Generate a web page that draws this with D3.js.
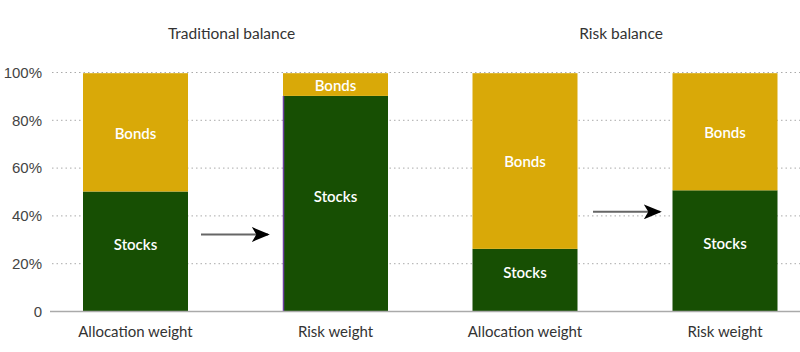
<!DOCTYPE html>
<meta charset="utf-8">
<script src="https://d3js.org/d3.v7.min.js"></script>
<style>
  body { margin: 0; font-family: "Source Sans Pro", Lato, "Noto Sans", sans-serif; background: #fff; }
  .tick text { fill: #444; font-size: 15px; }
</style>
<body>
<div id="viz"></div>
<script>
// data
const groups = ["Traditional balance", "Risk balance"];
const barKinds = ["Allocation weight", "Risk weight"];
const stocks = [[0.5, 0.9], [0.26, 0.505]];
const bonds = [[0.495, 0.095], [0.735, 0.49]];
const yTicks = [0, 0.2, 0.4, 0.6, 0.8, 1.0];

const W = 800, H = 352;
const svg = d3.select("#viz").append("svg").attr("width", W).attr("height", H);

const y = d3.scaleLinear().domain([0, 1]).range([311, 72]);
const gx = d3.scalePoint().domain(groups).range([135.5, 525]);
const ix = d3.scalePoint().domain(barKinds).range([0, 200]);
const bw = 105;

// gridlines
svg.append("g").selectAll("line").data(yTicks.filter(d => d > 0)).join("line")
  .attr("x1", 52).attr("x2", 800)
  .attr("y1", d => y(d) + 0.5).attr("y2", d => y(d) + 0.5)
  .attr("stroke", "#aaa").attr("stroke-dasharray", "1.5,3");

// y axis labels
const yAxis = svg.append("g").attr("transform", "translate(42,0)")
  .call(d3.axisLeft(y).tickValues(yTicks).tickSize(0)
    .tickFormat(d => d === 0 ? "0" : d3.format(".0%")(d)));
yAxis.select(".domain").remove();
yAxis.selectAll("text").attr("dy", "0.35em").attr("x", 0);

// bars
const stack = [];
groups.forEach((g, gi) => barKinds.forEach((k, ki) =>
  stack.push({ g, k, cx: gx(g) + ix(k), s: stocks[gi][ki], o: bonds[gi][ki] })));

const g = svg.append("g");
g.selectAll(".stk").data(stack).join("rect")
  .attr("x", d => d.cx - bw / 2).attr("width", bw)
  .attr("y", d => y(d.s)).attr("height", d => y(0) - y(d.s))
  .attr("fill", "#174f03");
g.selectAll(".bnd").data(stack).join("rect")
  .attr("x", d => d.cx - bw / 2).attr("width", bw)
  .attr("y", d => y(d.s + d.o)).attr("height", d => y(d.s) - y(d.s + d.o))
  .attr("fill", "#d9a908");

// thin purple edge on traditional risk-weight bar
const edge = stack[1];
svg.append("line")
  .attr("x1", edge.cx - bw / 2 + 0.5).attr("x2", edge.cx - bw / 2 + 0.5)
  .attr("y1", y(edge.s)).attr("y2", y(0))
  .attr("stroke", "#6b3fa0").attr("stroke-width", 1.5);

// bar labels
g.selectAll(".ls").data(stack).join("text")
  .attr("x", d => d.cx).attr("y", d => y(d.s / 2) - 7).attr("dy", "0.35em")
  .attr("text-anchor", "middle").attr("fill", "#fff")
  .attr("font-size", 15).attr("font-weight", 600).text("Stocks");
g.selectAll(".lb").data(stack).join("text")
  .attr("x", d => d.cx).attr("y", d => y(d.s + d.o / 2) + 1).attr("dy", "0.35em")
  .attr("text-anchor", "middle").attr("fill", "#fff")
  .attr("font-size", 15).attr("font-weight", 600).text("Bonds");

// baseline
svg.append("line").attr("x1", 50).attr("x2", 800).attr("y1", 311.5).attr("y2", 311.5)
  .attr("stroke", "#aaa").attr("stroke-width", 1.5);

// category labels
svg.append("g").selectAll("text").data(stack).join("text")
  .attr("x", d => d.cx).attr("y", 337).attr("text-anchor", "middle")
  .attr("fill", "#333").attr("font-size", 15)
  .text(d => d.k);

// group titles
svg.append("g").selectAll("text").data(groups).join("text")
  .attr("x", d => gx(d) + 96).attr("y", 39).attr("text-anchor", "middle")
  .attr("fill", "#333").attr("font-size", 15.5).text(d => d);

// arrows
svg.append("defs").append("marker").attr("id", "ah").attr("viewBox", "0 0 10 10")
  .attr("preserveAspectRatio", "none")
  .attr("refX", 9).attr("refY", 5).attr("markerWidth", 18).attr("markerHeight", 15)
  .attr("markerUnits", "userSpaceOnUse").attr("orient", "auto")
  .append("path").attr("d", "M0,0 L10,5 L0,10 L2.5,5 Z").attr("fill", "#000");
const arrows = [
  { x1: 201, x2: 268, v: 0.32 },
  { x1: 593, x2: 660, v: 0.415 }
];
svg.append("g").selectAll("line").data(arrows).join("line")
  .attr("x1", d => d.x1).attr("x2", d => d.x2)
  .attr("y1", d => y(d.v)).attr("y2", d => y(d.v))
  .attr("stroke", "#666").attr("stroke-width", 2)
  .attr("marker-end", "url(#ah)");
</script>
</body>
